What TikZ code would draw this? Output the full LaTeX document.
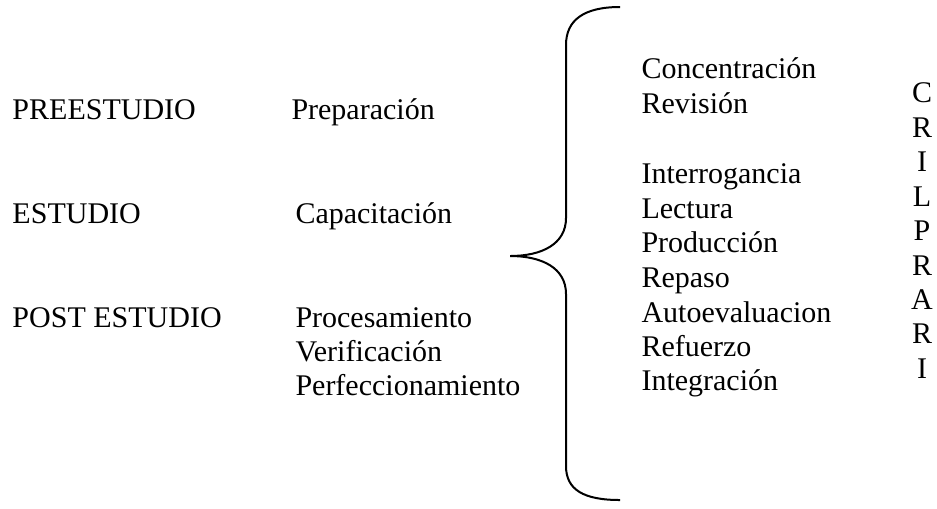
\documentclass[tikz,border=0pt]{standalone}
\usepackage{fontspec}
\setmainfont{Liberation Serif}
\tikzset{
  txt/.style={anchor=base west, inner sep=0pt, font=\fontsize{12}{14}\selectfont},
  letra/.style={anchor=base, inner sep=0pt, font=\fontsize{12}{14}\selectfont},
  llave/.style={line width=0.8pt}
}
\begin{document}
\begin{tikzpicture}[x=0.4pt, y=-0.4pt]
      \useasboundingbox (0,0) rectangle (937,508);

      \node[txt] (pre) at (12,119) {PREESTUDIO};
      \node[txt] (est) at (12,223) {ESTUDIO};
      \node[txt] (post) at (12,327) {POST ESTUDIO};

      \node[txt] (prep) at (291,119) {Preparación};
      \node[txt] (capa) at (295,223) {Capacitación};
      \node[txt] (proc) at (295,327) {Procesamiento};
      \node[txt] (veri) at (295,361) {Verificación};
      \node[txt] (perf) at (295,395) {Perfeccionamiento};

      \draw[llave] (620,7) .. controls (584,7) and (566,20) .. (566,45)
                   -- (566,218)
                   .. controls (566,244) and (542,256) .. (510,256)
                   .. controls (542,256) and (566,268) .. (566,294)
                   -- (566,466)
                   .. controls (566,490) and (584,500) .. (620,500);

      \node[txt] (conc) at (641,78) {Concentración};
      \node[txt] (revi) at (641,113) {Revisión};
      \node[txt] (inte) at (641,183) {Interrogancia};
      \node[txt] (lect) at (641,218) {Lectura};
      \node[txt] (prod) at (641,252) {Producción};
      \node[txt] (repa) at (641,287) {Repaso};
      \node[txt] (auto) at (641,322) {Autoevaluacion};
      \node[txt] (refu) at (641,356) {Refuerzo};
      \node[txt] (integ) at (641,390) {Integración};

      \node[letra] (c1) at (922,102) {C};
      \node[letra] (c2) at (922,137) {R};
      \node[letra] (c3) at (922,171) {I};
      \node[letra] (c4) at (922,206) {L};
      \node[letra] (c5) at (922,240) {P};
      \node[letra] (c6) at (922,275) {R};
      \node[letra] (c7) at (922,309) {A};
      \node[letra] (c8) at (922,343) {R};
      \node[letra] (c9) at (922,378) {I};
\end{tikzpicture}
\end{document}
